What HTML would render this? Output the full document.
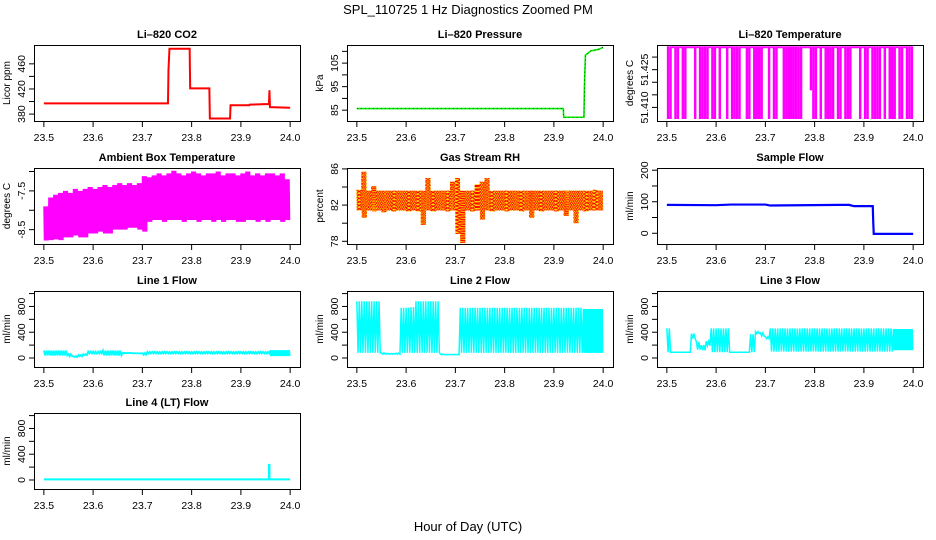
<!DOCTYPE html>
<html><head><meta charset="utf-8"><style>
html,body{margin:0;padding:0;background:#fff}
svg{display:block;font-family:"Liberation Sans",sans-serif}
</style></head><body>
<svg id="chart" width="936" height="540" viewBox="0 0 936 540">
<rect width="936" height="540" fill="#fff"/>
<text x="468" y="14" font-size="13" text-anchor="middle">SPL_110725  1 Hz Diagnostics Zoomed PM</text>
<text x="468" y="531" font-size="13" text-anchor="middle">Hour of Day (UTC)</text>
</svg>
<script>
// ---- data ----
const xTicks = [23.5, 23.6, 23.7, 23.8, 23.9, 24.0];
const xTickLabels = ["23.5", "23.6", "23.7", "23.8", "23.9", "24.0"];

const co2Times = [23.5, 23.752, 23.753, 23.755, 23.796, 23.797, 23.836, 23.837, 23.878, 23.879, 23.917, 23.918, 23.957, 23.958, 23.959, 24.0];
const co2Values = [397, 397, 450, 484, 484, 421, 421, 373, 373, 394, 394, 395, 396, 418, 391, 390];

const presTimes = [23.5, 23.919, 23.92, 23.961, 23.962, 23.964, 23.975, 23.99, 24.0];
const presValues = [85.7, 85.7, 82, 82, 95, 108.4, 110.2, 110.8, 111.7];

const tempLow = [1,1,0,1,1,0,1,1,0,0,0,1,0,1,1,1,1,0,1,1,0,1,0,0,1,0,1,1,1,1,0,0,1,1,0,1,1,1,1,0,0,1,0,1,1,0,0,1,1,1,1,1,1,1,1,0,0,0,0.6,1,1,0,1,0,1,1,1,1,0,1,1,0,1,1,1,0,0,0,1,0,1,1,0,1,1,1,1,0,1,0,1,1,1,0,1,1,0,1,1,1];

const ambHi = [-7.9,-7.67,-7.6,-7.55,-7.5,-7.55,-7.45,-7.5,-7.45,-7.4,-7.45,-7.4,-7.35,-7.4,-7.35,-7.3,-7.35,-7.3,-7.35,-7.3,-7.12,-7.15,-7.1,-7.05,-7.1,-7.05,-6.98,-7.05,-7.1,-7.05,-7.0,-7.05,-7.1,-7.05,-7.05,-7.0,-7.1,-7.05,-7.05,-7.1,-7.05,-7.0,-7.1,-7.05,-7.1,-7.05,-7.05,-7.1,-7.05,-7.2];
const ambLo = [-8.78,-8.77,-8.75,-8.77,-8.7,-8.7,-8.65,-8.7,-8.7,-8.6,-8.6,-8.55,-8.6,-8.6,-8.5,-8.5,-8.5,-8.45,-8.45,-8.5,-8.55,-8.3,-8.25,-8.25,-8.3,-8.25,-8.25,-8.25,-8.3,-8.25,-8.25,-8.3,-8.25,-8.25,-8.3,-8.25,-8.3,-8.25,-8.25,-8.3,-8.3,-8.25,-8.25,-8.3,-8.25,-8.3,-8.25,-8.25,-8.3,-8.25];

const rhHi = [83.7,85.7,83.6,84.1,83.6,83.6,83.6,83.6,83.6,83.6,83.6,83.6,83.6,83.6,85.0,83.6,83.6,83.6,83.6,84.6,85.0,83.6,83.6,83.6,84.3,84.6,85.0,83.6,83.6,83.6,83.6,83.6,83.6,83.6,83.6,83.6,83.6,83.6,83.6,83.6,83.6,83.6,83.6,83.6,83.6,83.6,83.6,83.6,83.7,83.6];
const rhLo = [81.4,80.6,81.4,81.3,81.4,81.2,81.4,81.3,81.4,81.4,81.3,81.4,81.3,79.8,81.4,81.3,81.4,81.4,81.3,81.4,78.8,77.8,81.4,81.3,81.4,80.4,81.4,81.3,81.4,81.4,81.3,81.4,81.4,81.3,81.4,80.6,81.4,81.3,81.4,81.4,81.3,81.4,80.8,81.4,80.0,81.4,81.3,81.4,81.4,81.4];

const sfTimes = [23.5, 23.6, 23.63, 23.7, 23.71, 23.85, 23.87, 23.88, 23.918, 23.919, 23.92, 24.0];
const sfValues = [90, 89, 91, 91, 88, 90, 90, 86, 86, 35, -2, -2];

const l1Hi = [115,115,115,115,115,60,30,45,60,100,100,100,115,115,115,115,80,80,75,75,75,95,95,95,95,95,95,95,95,95,95,95,95,95,95,95,95,95,95,95,95,95,95,95,95,95,120,120,120,120];
const l1Lo = [40,40,40,40,40,25,15,25,45,70,70,70,40,40,40,40,75,75,70,70,50,70,70,70,70,70,70,70,70,70,70,70,70,70,70,70,70,70,70,70,70,70,70,70,70,70,30,30,30,30];

const l2Hi = [880,880,880,880,880,80,70,70,75,780,780,790,880,880,880,880,880,60,55,55,55,780,780,780,780,780,780,780,780,780,780,780,780,780,780,780,780,780,780,780,780,780,780,780,780,780,760,760,760,760];
const l2Lo = [80,80,80,80,80,60,60,60,60,80,80,80,80,80,80,80,80,50,50,50,50,80,80,80,80,80,80,80,80,80,80,80,80,80,80,80,80,80,80,80,80,80,80,80,80,80,80,80,80,80];

const l3Hi = [460,90,90,90,90,380,250,200,260,460,460,460,460,90,90,90,90,370,410,390,330,460,460,460,460,460,460,460,460,460,460,460,460,460,460,460,460,460,460,460,460,460,460,460,460,460,450,450,450,450];
const l3Lo = [90,90,90,90,90,300,130,120,190,90,90,90,90,90,90,90,90,90,380,340,300,100,100,100,100,100,100,100,100,100,100,100,100,100,100,100,100,100,100,100,100,100,100,100,100,100,120,120,120,120];

const l4Times = [23.5, 23.957, 23.957, 23.958, 23.958, 24.0];
const l4Values = [10, 10, 234, 234, 10, 10];

// ---- layout ----
const NS = "http://www.w3.org/2000/svg";
const svg = document.getElementById("chart");
const colLeft = [34, 347, 657], rowTop = [45, 168, 291, 413], PW = 266, PH = 76;
function mk(tag, attrs, parent) {
  const e = document.createElementNS(NS, tag);
  for (const k in attrs) e.setAttribute(k, attrs[k]);
  (parent || svg).appendChild(e);
  return e;
}
function panel(id, col, row, ylim, yticks, ylabels, title, ylab) {
  const L = colLeft[col], T = rowTop[row];
  const g = mk("g", {});
  
  
  const sx = t => L + (t - 23.48) / 0.54 * PW;
  const sy = v => T + PH - (v - ylim[0]) / (ylim[1] - ylim[0]) * PH;
  const tt = mk("text", {x: L + PW / 2, y: T - 7, "font-size": 11, "font-weight": "bold", "text-anchor": "middle"}, g);
  tt.textContent = title;
  
  
  const yl = mk("text", {transform: `translate(${L - 24},${T + PH / 2}) rotate(-90)`, "font-size": 10, "text-anchor": "middle"}, g);
  yl.textContent = ylab;
  
  
  const data = mk("g", {}, g);
  
  
  const ax = mk("g", {stroke: "#000", "stroke-width": 1, fill: "none"}, g);
  
  
  mk("rect", {x: L + 0.5, y: T + 0.5, width: PW, height: PH}, ax);
  xTicks.forEach((t, i) => {
    mk("line", {x1: sx(t), x2: sx(t), y1: T + PH, y2: T + PH + 6}, ax);
    const lb = mk("text", {x: sx(t), y: T + PH + 20, "font-size": 10.5, "text-anchor": "middle"}, g);
    lb.textContent = xTickLabels[i];
    
    
  });
  yticks.forEach(v => mk("line", {x1: L - 5, x2: L, y1: sy(v), y2: sy(v)}, ax));
  ylabels.forEach(([v, s]) => {
    const lb = mk("text", {transform: `translate(${L - 9},${sy(v)}) rotate(-90)`, "font-size": 10.5, "text-anchor": "middle"}, g);
    lb.textContent = s;
    
    
  });
  const clipId = "c" + id;
  const cp = mk("clipPath", {id: clipId}, g);
  mk("rect", {x: L, y: T, width: PW, height: PH}, cp);
  data.setAttribute("clip-path", `url(#${clipId})`);
  return {sx, sy, g: data};
}
function line(p, times, vals, color, w, name) {
  const pts = times.map((t, i) => p.sx(t).toFixed(2) + "," + p.sy(vals[i]).toFixed(2)).join(" ");
  const e = mk("polyline", {points: pts, fill: "none", stroke: color, "stroke-width": w}, p.g);
  
  
  return e;
}
function envelope(p, hi, lo, strokesFn, color, w, name, extra) {
  const pts = [];
  hi.forEach((h, i) => {
    const n = strokesFn(i);
    for (let k = 0; k < n; k++) {
      const t = 23.5 + 0.01 * (i + k / n);
      pts.push(p.sx(t).toFixed(2) + "," + p.sy(k % 2 ? lo[i] : h).toFixed(2));
    }
  });
  const e = mk("polyline", Object.assign({points: pts.join(" "), fill: "none", stroke: color, "stroke-width": w, "stroke-linejoin": "miter"}, extra || {}), p.g);
  
  
  return e;
}

// CO2
const pCO2 = panel("co2", 0, 0, [369, 490], [380, 400, 420, 440, 460], [[380, "380"], [420, "420"], [460, "460"]], "Li\u2013820 CO2", "Licor ppm");
line(pCO2, co2Times, co2Values, "#ff0000", 2, "co2-line");

// Pressure
const pP = panel("pres", 1, 0, [80.4, 112.7], [85, 90, 95, 100, 105, 110], [[85, "85"], [95, "95"], [105, "105"]], "Li\u2013820 Pressure", "kPa");
line(pP, presTimes, presValues, "#00ee00", 1.6, "pressure-line");
line(pP, presTimes, presValues, "#000", 0.6, "pressure-points").setAttribute("stroke-dasharray", "1 3");

// Li temp
const pT = panel("ltemp", 2, 0, [51.4046, 51.4348], [51.410, 51.415, 51.420, 51.425, 51.430], [[51.410, "51.410"], [51.425, "51.425"]], "Li\u2013820 Temperature", "degrees C");
tempLow.forEach((f, i) => {
  const top = 51.4339, bot = 51.4054;
  const low = top - f * (top - bot);
  const x0 = pT.sx(23.5 + 0.005 * i), x1 = pT.sx(23.5 + 0.005 * (i + 1));
  const r = mk("rect", {x: x0, y: pT.sy(top) - 1, width: x1 - x0, height: Math.max(2, pT.sy(low) - pT.sy(top) + 1), fill: "#ff00ff"}, pT.g);
  
  
});

// Ambient box temp
const pA = panel("amb", 0, 1, [-8.87, -6.91], [-8.5, -8.0, -7.5, -7.0], [[-8.5, "-8.5"], [-7.5, "-7.5"]], "Ambient Box Temperature", "degrees C");
envelope(pA, ambHi, ambLo, i => 10, "#ff00ff", 1.2, "ambient-temp-line");

// RH
const pR = panel("rh", 1, 1, [77.7, 86.1], [78, 80, 82, 84, 86], [[78, "78"], [82, "82"], [86, "86"]], "Gas Stream RH", "percent");
envelope(pR, rhHi, rhLo, i => 14, "#ffd700", 1, "rh-line");
envelope(pR, rhHi, rhLo, i => 14, "#ff0000", 0.8, "rh-points", {"stroke-dasharray": "1 2.5"});

// Sample flow
const pS = panel("sflow", 2, 1, [-34, 207], [0, 50, 100, 150, 200], [[0, "0"], [100, "100"], [200, "200"]], "Sample Flow", "ml/min");
line(pS, sfTimes, sfValues, "#0000ff", 2.2, "sample-flow-line");

// Flows
const flowLim = [-140, 1040], flowTicks = [0, 200, 400, 600, 800, 1000], flowLabels = [[0, "0"], [400, "400"], [800, "800"]];
const p1 = panel("l1", 0, 2, flowLim, flowTicks, flowLabels, "Line 1 Flow", "ml/min");
envelope(p1, l1Hi, l1Lo, i => (i >= 46 ? 10 : 4), "#00ffff", 1.8, "line1-flow");
const p2 = panel("l2", 1, 2, flowLim, flowTicks, flowLabels, "Line 2 Flow", "ml/min");
envelope(p2, l2Hi, l2Lo, i => (i >= 46 ? 10 : 4), "#00ffff", 1.5, "line2-flow");
const p3 = panel("l3", 2, 2, flowLim, flowTicks, flowLabels, "Line 3 Flow", "ml/min");
envelope(p3, l3Hi, l3Lo, i => (i >= 46 ? 10 : 4), "#00ffff", 1.5, "line3-flow");
const p4 = panel("l4", 0, 3, flowLim, flowTicks, flowLabels, "Line 4 (LT) Flow", "ml/min");
line(p4, l4Times, l4Values, "#00ffff", 2, "line4-flow");
</script>
</body></html>
